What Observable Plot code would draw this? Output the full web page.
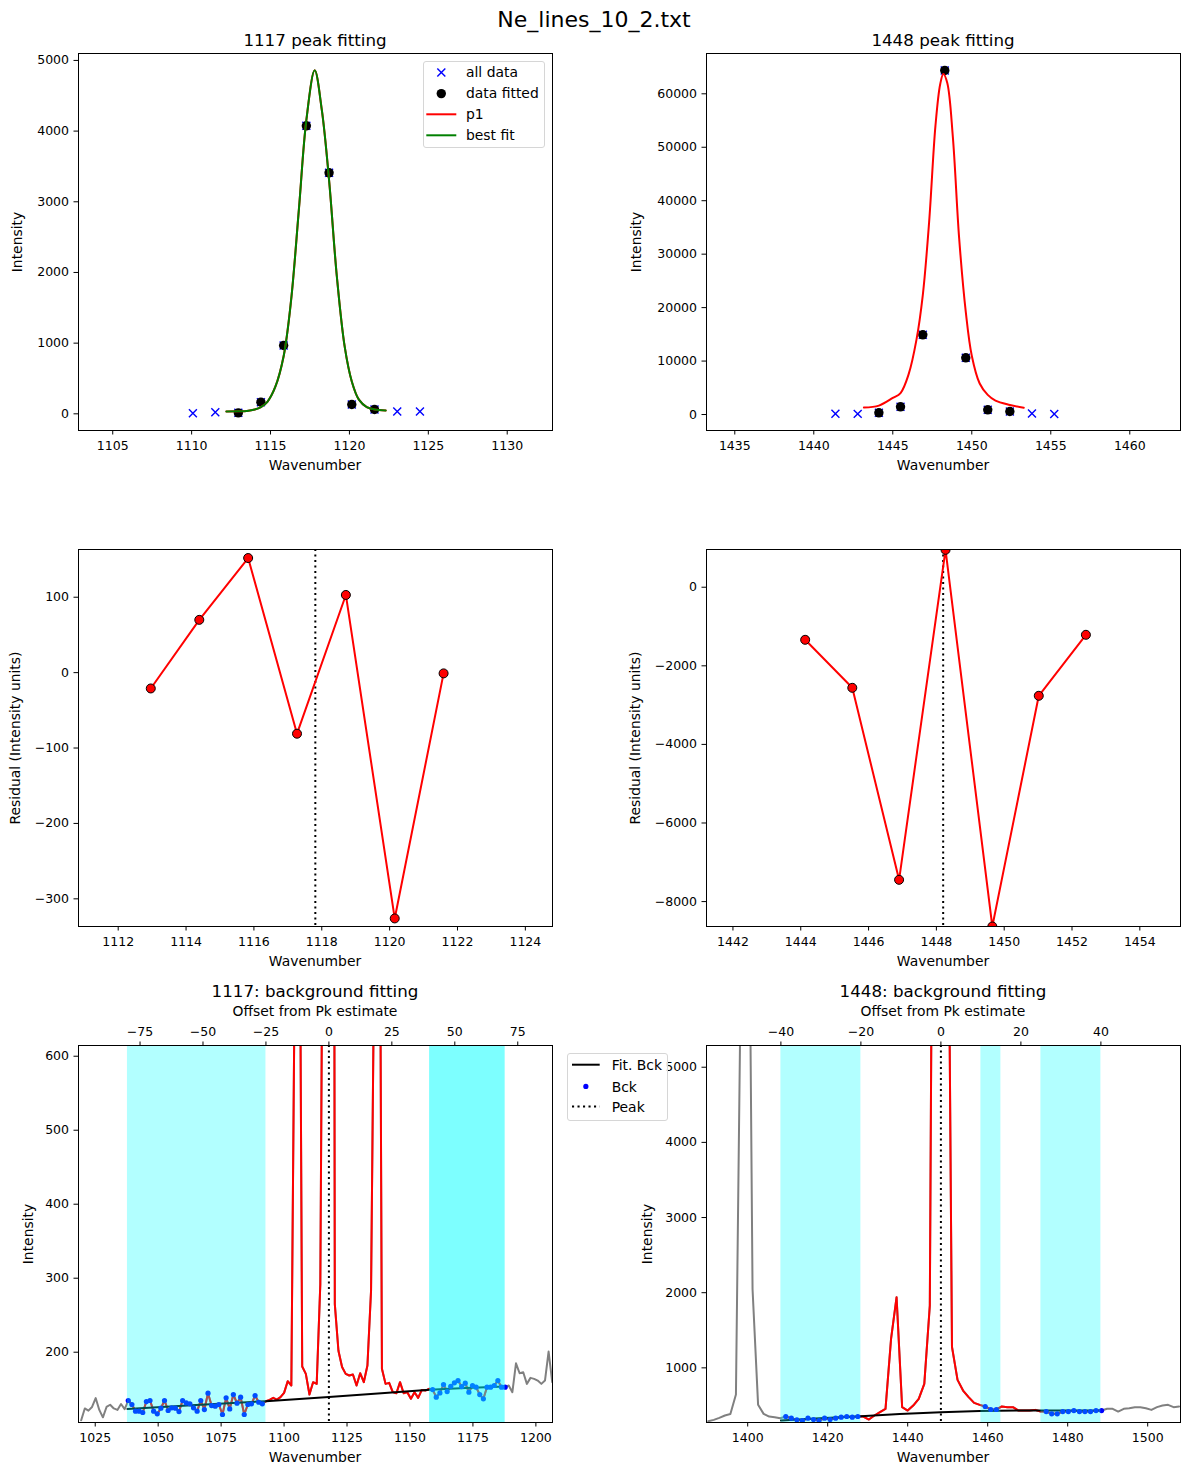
<!DOCTYPE html>
<html><head><meta charset="utf-8">
<script src="https://cdn.jsdelivr.net/npm/d3@7"></script>
<script src="https://cdn.jsdelivr.net/npm/@observablehq/plot@0.6"></script>
<style>
body{margin:0;background:#fff;}
#root{position:relative;width:1189px;height:1475px;overflow:hidden;background:#fff;font-family:'DejaVu Sans',sans-serif;color:#000;}
.t{position:absolute;white-space:nowrap;transform:translate(-50%,-50%);line-height:1;}
.leg{position:absolute;box-sizing:border-box;border:1px solid #d6d6d6;border-radius:3px;background:rgba(255,255,255,0.8);font-size:13.9px;}
.leg span{position:absolute;white-space:nowrap;transform:translateY(-50%);line-height:1;}
</style></head><body><div id="root"></div><script>
// ---------------- DATA ----------------
const suptitle = "Ne_lines_10_2.txt";

// 1117 peak fitting
const pk1AllX = [1110.08,1111.50,1112.96,1114.39,1115.83,1117.27,1118.71,1120.15,1121.59,1123.03,1124.47];
const pk1AllY = [8,23,14,165,967,4075,3410,132,61,33,33];
const pk1FitX = [1112.96,1114.39,1115.83,1117.27,1118.71,1120.15,1121.59];
const pk1FitY = [14,165,967,4075,3410,132,61];
const pk1CurveX = [1112.2,1112.96,1113.5,1114,1114.39,1114.8,1115.3,1115.83,1116.3,1116.8,1117.27,1117.8,1118.25,1118.71,1119.2,1119.7,1120.15,1120.6,1121.1,1121.59,1122.3];
const pk1CurveY = [33,35,40,60,95,170,380,815,1600,2900,4156,4860,4300,3307,1950,950,458,200,95,62,47];

// 1448 peak fitting
const pk2AllX = [1441.37,1442.78,1444.12,1445.49,1446.90,1448.29,1449.62,1451.01,1452.41,1453.81,1455.22];
const pk2AllY = [150,120,318,1440,14910,64370,10610,880,560,200,100];
const pk2FitX = [1444.12,1445.49,1446.90,1448.29,1449.62,1451.01,1452.41];
const pk2FitY = [318,1440,14910,64370,10610,880,560];
const pk2CurveX = [1443.17,1444.12,1445.0,1445.49,1446.0,1446.5,1446.9,1447.3,1447.7,1448.0,1448.2,1448.45,1448.8,1449.2,1449.62,1450.0,1450.5,1451.01,1451.5,1452.41,1453.29];
const pk2CurveY = [1300,1670,3100,4010,7500,14000,22340,36000,54000,61800,63700,62000,52000,33000,19210,11000,5800,3670,2600,1790,1250];

// residuals
const res1X = [1112.96,1114.39,1115.83,1117.27,1118.71,1120.15,1121.59];
const res1Y = [-21,70,152,-81,103,-326,-1];
const res1Peak = 1117.81;
const res2X = [1444.13,1445.52,1446.90,1448.27,1449.65,1451.02,1452.41];
const res2Y = [-1338,-2560,-7446,952,-8634,-2763,-1211];
const res2Peak = 1448.2;

// 1117 background spectrum
const bg1X = [1019.42,1020.86,1022.30,1023.74,1025.18,1026.62,1028.05,1029.49,1030.93,1032.37,1033.81,1035.25,1036.69,
1038.13,1039.57,1041.01,1042.44,1043.88,1045.32,1046.76,1048.20,1049.64,1051.08,1052.52,1053.96,1055.40,1056.83,1058.27,1059.71,1061.15,1062.59,1064.03,1065.47,1066.91,1068.35,1069.79,1071.22,1072.66,1074.10,1075.54,1076.98,1078.42,1079.86,1081.30,1082.74,1084.18,1085.61,1087.05,1088.49,1089.93,1091.37,
1092.81,1094.25,1095.69,1097.13,1098.57,1100.00,1101.44,1102.88,1104.32,1105.76,1107.20,1108.64,1110.08,1111.52,1112.96,1114.39,1115.83,1117.27,1118.71,1120.15,1121.59,1123.03,1124.47,1125.91,1127.35,1128.78,1130.22,1131.66,1133.10,1134.54,1135.98,1137.42,1138.86,1140.30,1141.74,1143.17,1144.61,1146.05,1147.49,1148.93,1150.37,1151.81,1153.25,1154.69,1156.13,1157.56,
1159.00,1160.44,1161.88,1163.32,1164.76,1166.20,1167.64,1169.08,1170.52,1171.95,1173.39,1174.83,1176.27,1177.71,1179.15,1180.59,1182.03,1183.47,1184.91,1186.34,1187.78,
1189.22,1190.66,1192.10,1193.54,1194.98,1196.42,1197.86,1199.30,1200.73,1202.17,1203.61,1205.05,1206.49];
const bg1Y = [108,124,121,126,138,122,112,126,129,124,122,130,123,
134.7,129.3,120.3,120.3,118.5,133.3,134.7,120.3,116.7,124.3,134.7,121.2,124.8,124.3,119.8,134.7,131.5,130.2,124.8,120.3,134.7,122.5,144.6,127.9,127,129.3,115.8,138.3,123.4,142.8,131.1,139.2,115.8,129.3,130.2,141.4,132.4,130.2,
133.8,135.6,138.3,136,139.2,145,160.8,155,750,1150,180.6,170.7,142.8,159.5,157.2,292,1110,4215,3550,265,202,180,170.7,168.5,169.8,155,171.6,159.5,182,283,800,1380,177.5,157.2,158.6,146,144.6,159.5,144.6,146,137,146,138.3,149,148.2,150.5,
149.5,139.2,145,156.3,146.8,154,158.6,161.7,153.6,158.1,146,155,152.7,142.8,137,152.7,152.7,155,161.7,152.7,152.7,
155,146,185,171.6,173,157.2,165.3,164,161.7,157.2,161.7,200.9,159.5];
const fit1X = [1037.8,1065,1092.8,1117.8,1140,1157.8,1172,1187.8];
const fit1Y = [123.4,128.5,133.8,139.5,145,149.1,151.5,153.5];
const peakEst1 = 1117.8;
const bck1Offsets = [[-80,-25],[40,70]];
const bck1Idx = [[13,50],[97,117]];
const red1Idx = [13,117];

// 1448 background spectrum
const bg2X = [1390.13,1391.52,1392.90,1394.29,1395.67,1397.06,1398.44,1399.83,1401.21,1402.60,1403.98,1405.37,1406.75,1408.14,
1409.52,1410.91,1412.29,1413.68,1415.06,1416.45,1417.83,1419.22,1420.60,1421.99,1423.37,1424.76,1426.14,1427.53,
1428.91,1430.30,1431.68,1433.07,1434.45,1435.84,1437.22,1438.61,1439.99,1441.38,1442.76,1444.15,1445.53,1446.92,1448.30,1449.69,1451.07,1452.46,1453.84,1455.23,1456.61,1458.00,1459.38,1460.77,1462.15,1463.54,1464.92,1466.31,1467.69,1469.08,1470.46,1471.85,1473.23,
1474.62,1476.00,1477.39,1478.77,1480.16,1481.54,1482.93,1484.31,1485.70,1487.08,1488.47,
1489.85,1491.24,1492.62,1494.01,1495.39,1496.78,1498.16,1499.55,1500.93,1502.32,1503.70,1505.09,1506.47,1507.86];
const bg2Y = [290,308,335,366,385,645,7000,11000,2050,508,388,352,344,330,
352.6,330,308,299,330,312.6,299,330,312.6,330,343.7,352.6,343.7,352.6,
352.6,312.6,366,410,454,1386,1940,477,432,499,588,787,1829,15300,64770,11000,1280,840,698,610,534,508,486,446,446,486,477,477,432,432,432,441,419,
419,388,388,419,419,432,419,419,419,432,432,
455,455,419,455,463,477,477,463,441,477,499,508,477,486];
const fit2X = [1408.3,1418,1428.3,1438,1448.3,1458,1468,1478,1488.3];
const fit2Y = [299,330,357,385,410,425,432,434,434];
const peakEst2 = 1448.3;
const bck2Offsets = [[-40,-20],[10,15],[25,40]];
const bck2Idx = [[14,27],[50,52],[61,71]];
const red2Idx = [14,71];

// ticks
const x1Ticks = [1105,1110,1115,1120,1125,1130], y1Ticks = [0,1000,2000,3000,4000,5000];
const x2Ticks = [1435,1440,1445,1450,1455,1460], y2Ticks = [0,10000,20000,30000,40000,50000,60000];
const x3Ticks = [1112,1114,1116,1118,1120,1122,1124], y3Ticks = [-300,-200,-100,0,100];
const x4Ticks = [1442,1444,1446,1448,1450,1452,1454], y4Ticks = [-8000,-6000,-4000,-2000,0];
const x5Ticks = [1025,1050,1075,1100,1125,1150,1175,1200], y5Ticks = [200,300,400,500,600], off5Ticks = [-75,-50,-25,0,25,50,75];
const x6Ticks = [1400,1420,1440,1460,1480,1500], y6Ticks = [1000,2000,3000,4000,5000], off6Ticks = [-40,-20,0,20,40];

// ---------------- RENDER ----------------
const root = document.getElementById("root");
const MINUS = "\u2212";
const fmt = d => (d < 0 ? MINUS : "") + Math.abs(d);
const pts = (xs, ys) => xs.map((x, i) => ({x, y: ys[i]}));
const FONT = "'DejaVu Sans', 'Liberation Sans', sans-serif";
const LW = 2;
const DOT = "2.1,3.4";

function addText(str, x, y, size, rotate) {
  const el = document.createElement("div");
  el.className = "t";
  el.textContent = str;
  el.style.left = x + "px"; el.style.top = y + "px"; el.style.fontSize = size + "px";
  if (rotate) el.style.transform = "translate(-50%,-50%) rotate(-90deg)";
  root.appendChild(el);
}

function panel(frame, o) {
  const [x0, y0, x1, y1] = frame;
  const mL = 76, mR = 8, mT = o.top ? 42 : 8, mB = 30;
  const axes = [
    Plot.axisX({ticks: o.xt, tickFormat: fmt, tickSize: 4.5, tickPadding: 6.5, label: null}),
    Plot.axisY({ticks: o.yt, tickFormat: fmt, tickSize: 4.5, tickPadding: 5, label: null})
  ];
  if (o.top) axes.push(Plot.axisX({anchor: "top", ticks: o.top.ticks.map(t => t + o.top.pk),
    tickFormat: d => fmt(Math.round(d - o.top.pk)), tickSize: 4.5, tickPadding: 5.5, label: null}));
  const svg = Plot.plot({
    width: mL + (x1 - x0) + mR, height: mT + (y1 - y0) + mB,
    marginLeft: mL, marginRight: mR, marginTop: mT, marginBottom: mB,
    x: {type: "linear", domain: o.xd},
    y: {type: "linear", domain: o.yd},
    style: {position: "absolute", left: (x0 - mL) + "px", top: (y0 - mT) + "px", fontFamily: FONT,
      fontSize: "12.5px", background: "transparent", overflow: "visible", maxWidth: "none", color: "black"},
    marks: [...o.marks, ...axes, Plot.frame({stroke: "black", strokeWidth: 1})]
  });
  root.appendChild(svg);
}

function sel(xs, ys, a, b) { return pts(xs.slice(a, b + 1), ys.slice(a, b + 1)); }

// Panel 1
panel([78, 53, 552, 430], {
  xd: [1102.83, 1132.87], yd: [-236, 5098], xt: x1Ticks, yt: y1Ticks,
  marks: [
    Plot.dot(pts(pk1AllX, pk1AllY), {x: "x", y: "y", symbol: "times", r: 3.7, stroke: "blue", strokeWidth: 1.4}),
    Plot.dot(pts(pk1FitX, pk1FitY), {x: "x", y: "y", r: 4.7, fill: "black"}),
    Plot.line(pts(pk1CurveX, pk1CurveY), {x: "x", y: "y", stroke: "red", strokeWidth: LW, curve: "catmull-rom"}),
    Plot.line(pts(pk1CurveX, pk1CurveY), {x: "x", y: "y", stroke: "green", strokeWidth: LW, curve: "catmull-rom"})
  ]
});
// Panel 2
panel([706, 53, 1180, 430], {
  xd: [1433.21, 1463.21], yd: [-2990, 67540], xt: x2Ticks, yt: y2Ticks,
  marks: [
    Plot.dot(pts(pk2AllX, pk2AllY), {x: "x", y: "y", symbol: "times", r: 3.7, stroke: "blue", strokeWidth: 1.4}),
    Plot.dot(pts(pk2FitX, pk2FitY), {x: "x", y: "y", r: 4.7, fill: "black"}),
    Plot.line(pts(pk2CurveX, pk2CurveY), {x: "x", y: "y", stroke: "red", strokeWidth: LW, curve: "catmull-rom"})
  ]
});
// Panel 3
panel([78, 549, 552, 926], {
  xd: [1110.83, 1124.8], yd: [-336.7, 163.3], xt: x3Ticks, yt: y3Ticks,
  marks: [
    Plot.ruleX([res1Peak], {x: d => d, stroke: "black", strokeWidth: LW, strokeDasharray: DOT}),
    Plot.line(pts(res1X, res1Y), {x: "x", y: "y", stroke: "red", strokeWidth: LW}),
    Plot.dot(pts(res1X, res1Y), {x: "x", y: "y", r: 4.5, fill: "red", stroke: "black", strokeWidth: 1, clip: true})
  ]
});
// Panel 4
panel([706, 549, 1180, 926], {
  xd: [1441.22, 1455.2], yd: [-8634, 960], xt: x4Ticks, yt: y4Ticks,
  marks: [
    Plot.ruleX([res2Peak], {x: d => d, stroke: "black", strokeWidth: LW, strokeDasharray: DOT}),
    Plot.line(pts(res2X, res2Y), {x: "x", y: "y", stroke: "red", strokeWidth: LW, clip: true}),
    Plot.dot(pts(res2X, res2Y), {x: "x", y: "y", r: 4.5, fill: "red", stroke: "black", strokeWidth: 1, clip: true})
  ]
});
// Panel 5
const yd5 = [105, 614.5];
panel([78, 1045, 552, 1422], {
  xd: [1018.36, 1206.6], yd: yd5, xt: x5Ticks, yt: y5Ticks, top: {ticks: off5Ticks, pk: peakEst1},
  marks: [
    Plot.line(pts(bg1X, bg1Y), {x: "x", y: "y", stroke: "gray", strokeWidth: LW, clip: true}),
    Plot.line(sel(bg1X, bg1Y, red1Idx[0], red1Idx[1]), {x: "x", y: "y", stroke: "red", strokeWidth: LW, clip: true}),
    Plot.line(pts(fit1X, fit1Y), {x: "x", y: "y", stroke: "black", strokeWidth: LW, clip: true}),
    ...bck1Idx.map(([a, b]) => Plot.dot(sel(bg1X, bg1Y, a, b), {x: "x", y: "y", r: 2.6, fill: "blue", clip: true})),
    Plot.rect([bck1Offsets[0]], {x1: d => peakEst1 + d[0], x2: d => peakEst1 + d[1], y1: () => yd5[0], y2: () => yd5[1], fill: "cyan", fillOpacity: 0.3}),
    Plot.rect([bck1Offsets[1]], {x1: d => peakEst1 + d[0], x2: d => peakEst1 + d[1], y1: () => yd5[0], y2: () => yd5[1], fill: "cyan", fillOpacity: 0.51}),
    Plot.ruleX([peakEst1], {x: d => d, stroke: "black", strokeWidth: LW, strokeDasharray: DOT})
  ]
});
// Panel 6
const yd6 = [273, 5289];
panel([706, 1045, 1180, 1422], {
  xd: [1389.7, 1508.2], yd: yd6, xt: x6Ticks, yt: y6Ticks, top: {ticks: off6Ticks, pk: peakEst2},
  marks: [
    Plot.line(pts(bg2X, bg2Y), {x: "x", y: "y", stroke: "gray", strokeWidth: LW, clip: true}),
    Plot.line(sel(bg2X, bg2Y, red2Idx[0], red2Idx[1]), {x: "x", y: "y", stroke: "red", strokeWidth: LW, clip: true}),
    Plot.line(pts(fit2X, fit2Y), {x: "x", y: "y", stroke: "black", strokeWidth: LW, clip: true}),
    ...bck2Idx.map(([a, b]) => Plot.dot(sel(bg2X, bg2Y, a, b), {x: "x", y: "y", r: 2.6, fill: "blue", clip: true})),
    Plot.rect(bck2Offsets, {x1: d => peakEst2 + d[0], x2: d => peakEst2 + d[1], y1: () => yd6[0], y2: () => yd6[1], fill: "cyan", fillOpacity: 0.3}),
    Plot.ruleX([peakEst2], {x: d => d, stroke: "black", strokeWidth: LW, strokeDasharray: DOT})
  ]
});

// Texts
addText(suptitle, 594, 20, 22);
addText("1117 peak fitting", 315, 40, 16.7);
addText("1448 peak fitting", 943, 40, 16.7);
for (const y of [466, 962, 1458]) { addText("Wavenumber", 315, y, 13.9); addText("Wavenumber", 943, y, 13.9); }
addText("Intensity", 18, 241.5, 13.9, true); addText("Intensity", 637, 241.5, 13.9, true);
addText("Residual (Intensity units)", 16, 737.5, 13.9, true); addText("Residual (Intensity units)", 636, 737.5, 13.9, true);
addText("Intensity", 29, 1233.5, 13.9, true); addText("Intensity", 648, 1233.5, 13.9, true);
addText("1117: background fitting", 315, 991, 16.7); addText("1448: background fitting", 943, 991, 16.7);
addText("Offset from Pk estimate", 315, 1011.5, 13.9); addText("Offset from Pk estimate", 943, 1011.5, 13.9);

// Legends
function legendBox(left, top, w, h, textX, rows) {
  const box = document.createElement("div");
  box.className = "leg";
  Object.assign(box.style, {left: left + "px", top: top + "px", width: w + "px", height: h + "px"});
  const ns = "http://www.w3.org/2000/svg";
  const svg = document.createElementNS(ns, "svg");
  svg.setAttribute("width", w); svg.setAttribute("height", h);
  Object.assign(svg.style, {position: "absolute", left: "-1px", top: "-1px", overflow: "visible"});
  const mk = (tag, attrs) => { const e = document.createElementNS(ns, tag); for (const k in attrs) e.setAttribute(k, attrs[k]); svg.appendChild(e); };
  for (const r of rows) {
    const cx = (r.x1 + r.x2) / 2;
    if (r.kind === "x") {
      mk("line", {x1: cx - 4, y1: r.y - 4, x2: cx + 4, y2: r.y + 4, stroke: r.c, "stroke-width": 1.4});
      mk("line", {x1: cx - 4, y1: r.y + 4, x2: cx + 4, y2: r.y - 4, stroke: r.c, "stroke-width": 1.4});
    } else if (r.kind === "dot") {
      mk("circle", {cx, cy: r.y, r: r.r, fill: r.c});
    } else {
      mk("line", {x1: r.x1, y1: r.y, x2: r.x2, y2: r.y, stroke: r.c, "stroke-width": LW, "stroke-dasharray": r.kind === "dotted" ? DOT : "none"});
    }
    const s = document.createElement("span");
    s.textContent = r.label; s.style.left = (textX - 1) + "px"; s.style.top = r.y + "px";
    box.appendChild(s);
  }
  box.appendChild(svg);
  root.appendChild(box);
}
legendBox(422.7, 60.7, 122.3, 87.6, 43.3, [
  {label: "all data", kind: "x", c: "blue", x1: 3.3, x2: 33.3, y: 11.6},
  {label: "data fitted", kind: "dot", c: "black", r: 4.7, x1: 3.3, x2: 33.3, y: 32.6},
  {label: "p1", kind: "line", c: "red", x1: 3.3, x2: 33.3, y: 53.3},
  {label: "best fit", kind: "line", c: "green", x1: 3.3, x2: 33.3, y: 74.3}
]);
legendBox(567.3, 1053.3, 101, 67.4, 44.4, [
  {label: "Fit. Bck", kind: "line", c: "black", x1: 5, x2: 32.7, y: 11.7},
  {label: "Bck", kind: "dot", c: "blue", r: 2.6, x1: 5, x2: 32.7, y: 33.4},
  {label: "Peak", kind: "dotted", c: "black", x1: 5, x2: 32.7, y: 53.4}
]);
</script></body></html>
